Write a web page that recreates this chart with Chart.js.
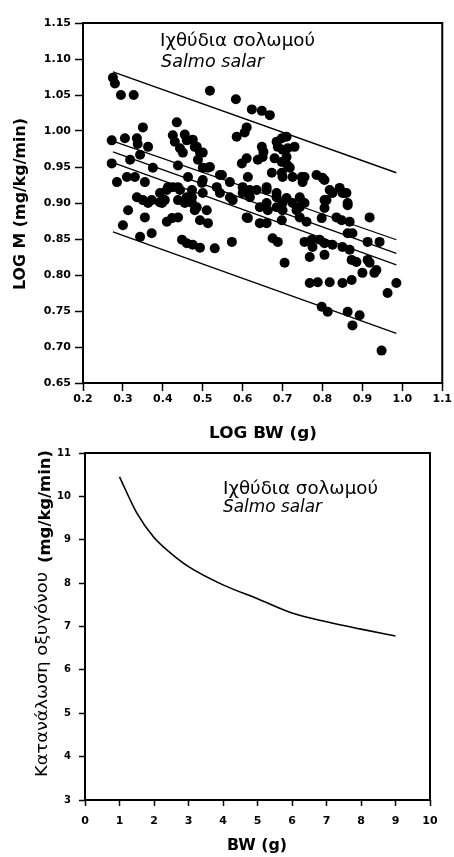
<!DOCTYPE html>
<html>
<head>
<meta charset="utf-8">
<script src="https://cdn.jsdelivr.net/npm/chart.js@4.4.1/dist/chart.umd.min.js"></script>
<style>
  html, body { margin: 0; padding: 0; background: #fff; }
  #wrap { position: relative; width: 454px; height: 857px; }
  #topChart { position: absolute; left: 0; top: 0; width: 454px; height: 445px; }
  #bottomChart { position: absolute; left: 0; top: 445px; width: 454px; height: 412px; }
</style>
</head>
<body>
<div id="wrap">
  <canvas id="topChart" width="454" height="445"></canvas>
  <canvas id="bottomChart" width="454" height="412"></canvas>
</div>
<script>
// scatter: LOG BW (g) vs LOG M (mg/kg/min)
const logBw = [
  0.275, 0.280, 0.295, 0.327, 0.518, 0.583, 0.623, 0.648, 0.668, 0.610,
  0.605, 0.585, 0.435, 0.350, 0.272, 0.305, 0.335, 0.337, 0.425, 0.430,
  0.455, 0.460, 0.475, 0.443, 0.450, 0.485, 0.493, 0.488, 0.363, 0.343,
  0.318, 0.272, 0.285, 0.310, 0.330, 0.355, 0.375, 0.438, 0.500, 0.518,
  0.543, 0.568, 0.598, 0.610, 0.638, 0.650, 0.648, 0.652, 0.685, 0.698,
  0.710, 0.688, 0.700, 0.713, 0.730, 0.710, 0.713, 0.718, 0.698, 0.673,
  0.725, 0.748, 0.750, 0.785, 0.800, 0.818, 0.825, 0.843, 0.850, 0.335,
  0.350, 0.372, 0.392, 0.313, 0.355, 0.300, 0.343, 0.372, 0.410, 0.423,
  0.438, 0.448, 0.460, 0.475, 0.493, 0.530, 0.573, 0.493, 0.513, 0.510,
  0.393, 0.410, 0.425, 0.443, 0.460, 0.473, 0.485, 0.500, 0.543, 0.568,
  0.610, 0.600, 0.618, 0.643, 0.660, 0.643, 0.663, 0.685, 0.700, 0.635,
  0.660, 0.685, 0.710, 0.725, 0.743, 0.750, 0.698, 0.675, 0.688, 0.705,
  0.760, 0.755, 0.773, 0.775, 0.768, 0.768, 0.788, 0.798, 0.805, 0.810,
  0.805, 0.793, 0.805, 0.825, 0.860, 0.863, 0.835, 0.848, 0.868, 0.850,
  0.868, 0.863, 0.875, 0.818, 0.850, 0.873, 0.873, 0.885, 0.900, 0.918,
  0.913, 0.943, 0.913, 0.918, 0.930, 0.935, 0.963, 0.985, 0.798, 0.813,
  0.863, 0.875, 0.893, 0.948, 0.480, 0.463, 0.413, 0.438, 0.473, 0.498,
  0.405, 0.438, 0.473, 0.680, 0.698, 0.613, 0.700, 0.500, 0.513, 0.548,
  0.500, 0.535, 0.600, 0.660, 0.685, 0.743, 0.575, 0.618, 0.660, 0.700,
  0.805, 0.755, 0.855, 0.805, 0.863, 0.755, 0.613, 0.735, 0.743, 0.398,
  0.455, 0.480, 0.363
];
const logM = [
  1.074, 1.066, 1.050, 1.050, 1.056, 1.044, 1.030, 1.028, 1.022, 1.005,
  0.998, 0.992, 1.012, 1.005, 0.987, 0.990, 0.990, 0.982, 0.994, 0.985,
  0.995, 0.987, 0.988, 0.976, 0.970, 0.978, 0.970, 0.960, 0.978, 0.967,
  0.960, 0.955, 0.929, 0.936, 0.936, 0.929, 0.949, 0.952, 0.949, 0.950,
  0.939, 0.929, 0.955, 0.962, 0.960, 0.964, 0.978, 0.971, 0.985, 0.990,
  0.992, 0.978, 0.974, 0.976, 0.978, 0.964, 0.952, 0.949, 0.942, 0.942,
  0.936, 0.936, 0.929, 0.939, 0.935, 0.918, 0.914, 0.921, 0.914, 0.908,
  0.904, 0.904, 0.901, 0.890, 0.880, 0.869, 0.853, 0.858, 0.874, 0.879,
  0.880, 0.849, 0.844, 0.842, 0.838, 0.837, 0.846, 0.876, 0.872, 0.890,
  0.914, 0.918, 0.922, 0.918, 0.908, 0.900, 0.894, 0.914, 0.914, 0.908,
  0.880, 0.914, 0.918, 0.872, 0.872, 0.894, 0.890, 0.894, 0.890, 0.918,
  0.922, 0.914, 0.907, 0.900, 0.894, 0.901, 0.876, 0.851, 0.846, 0.817,
  0.874, 0.846, 0.849, 0.839, 0.825, 0.789, 0.790, 0.879, 0.893, 0.904,
  0.828, 0.849, 0.844, 0.842, 0.914, 0.897, 0.880, 0.876, 0.874, 0.839,
  0.835, 0.858, 0.858, 0.790, 0.789, 0.793, 0.821, 0.818, 0.803, 0.880,
  0.846, 0.846, 0.821, 0.817, 0.803, 0.807, 0.775, 0.789, 0.756, 0.749,
  0.749, 0.730, 0.744, 0.695, 0.978, 0.936, 0.922, 0.922, 0.918, 0.928,
  0.904, 0.904, 0.908, 0.962, 0.957, 0.936, 0.936, 0.970, 0.949, 0.939,
  0.932, 0.922, 0.922, 0.918, 0.908, 0.908, 0.904, 0.908, 0.900, 0.900,
  0.932, 0.936, 0.914, 0.904, 0.900, 0.900, 0.879, 0.890, 0.880, 0.900,
  0.900, 0.890, 0.900
];

// regression line with confidence and prediction bands (end points)
const fitX = [0.275, 0.985];
const upperPrediction = [1.082, 0.942];
const upperConfidence = [0.986, 0.849];
const regression = [0.971, 0.830];
const lowerConfidence = [0.956, 0.814];
const lowerPrediction = [0.860, 0.719];

const topXTicks = [0.2, 1.1, 0.1];
const topYTicks = [0.65, 1.15, 0.05];

// curve: BW (g) vs oxygen consumption (mg/kg/min)
const bwGrams = [1, 1.5, 2, 2.5, 3, 4, 5, 6, 7, 8, 9];
const oxygenUse = [10.45, 9.62, 9.05, 8.68, 8.38, 7.96, 7.64, 7.31, 7.11, 6.94, 6.78];

const bottomXTicks = [0, 10, 1];
const bottomYTicks = [3, 11, 1];

const speciesName = 'Ιχθύδια σολωμού';
const speciesLatin = 'Salmo salar';

const FONT = '"DejaVu Sans", "Liberation Sans", Arial, sans-serif';

// plot frame all around the chart area
const framePlugin = {
  id: 'frame',
  afterDatasetsDraw(chart) {
    const { ctx, chartArea: a } = chart;
    ctx.save();
    ctx.strokeStyle = '#000';
    ctx.lineWidth = 2;
    ctx.strokeRect(a.left, a.top, a.right - a.left, a.bottom - a.top);
    ctx.restore();
  }
};

// free texts, stretched to the length they have in the figure
const textPlugin = {
  id: 'texts',
  afterDraw(chart, args, opts) {
    const { ctx } = chart;
    (opts.items || []).forEach((item) => {
      ctx.save();
      ctx.font = item.font;
      ctx.fillStyle = '#000';
      ctx.textBaseline = item.baseline || 'middle';
      const w = ctx.measureText(item.text).width;
      const sx = item.len ? item.len / w : 1;
      ctx.translate(item.x, item.y);
      if (item.rotate) ctx.rotate(item.rotate);
      ctx.scale(sx, 1);
      ctx.fillText(item.text, item.align === 'center' ? -w / 2 : 0, 0);
      ctx.restore();
    });
  }
};

function lineSet(ys, width) {
  return {
    type: 'scatter',
    data: fitX.map((x, i) => ({ x, y: ys[i] })),
    showLine: true,
    borderColor: '#000',
    borderWidth: width,
    pointRadius: 0,
    fill: false
  };
}

function axis(range, digits, fontSize, tickLen, pad, fit) {
  return {
    type: 'linear',
    min: range[0],
    max: range[1],
    ticks: {
      stepSize: range[2],
      color: '#000',
      padding: pad,
      font: { family: FONT, size: fontSize, weight: 'bold' },
      callback: (v) => digits ? Number(v).toFixed(digits) : String(Math.round(v))
    },
    grid: {
      display: true,
      drawOnChartArea: false,
      drawTicks: true,
      tickLength: tickLen,
      tickColor: '#000',
      tickWidth: 1.5
    },
    border: { display: false },
    title: { display: false },
    afterFit: fit
  };
}

Chart.defaults.color = '#000';
Chart.defaults.animation = false;

new Chart(document.getElementById('topChart'), {
  type: 'scatter',
  data: {
    datasets: [
      {
        data: logBw.map((x, i) => ({ x, y: logM[i] })),
        backgroundColor: '#000',
        borderWidth: 0,
        pointRadius: 5
      },
      lineSet(upperPrediction, 1.4),
      lineSet(upperConfidence, 1.2),
      lineSet(regression, 1.2),
      lineSet(lowerConfidence, 1.2),
      lineSet(lowerPrediction, 1.4)
    ]
  },
  options: {
    responsive: false,
    animation: false,
    layout: { padding: { left: 0, right: 11, top: 23, bottom: 0 } },
    scales: {
      x: axis(topXTicks, 1, 11, 8, 2, (s) => { s.height = 62; }),
      y: axis(topYTicks, 2, 11, 8, 4, (s) => { s.width = 83; })
    },
    plugins: {
      legend: { display: false },
      tooltip: { enabled: false },
      texts: {
        items: [
          { text: speciesName, x: 160, y: 42, font: '17px ' + FONT, len: 155 },
          { text: speciesLatin, x: 161, y: 63, font: 'italic 17px ' + FONT, len: 103 },
          { text: 'LOG BW (g)', x: 263, y: 434, font: 'bold 16px ' + FONT, len: 108, align: 'center' },
          { text: 'LOG M (mg/kg/min)', x: 25, y: 290, font: 'bold 15px ' + FONT, len: 172,
            rotate: -Math.PI / 2, baseline: 'alphabetic' }
        ]
      }
    }
  },
  plugins: [framePlugin, textPlugin]
});

new Chart(document.getElementById('bottomChart'), {
  type: 'scatter',
  data: {
    datasets: [{
      data: bwGrams.map((x, i) => ({ x, y: oxygenUse[i] })),
      showLine: true,
      borderColor: '#000',
      borderWidth: 1.6,
      pointRadius: 0,
      cubicInterpolationMode: 'monotone',
      fill: false
    }]
  },
  options: {
    responsive: false,
    animation: false,
    layout: { padding: { left: 0, right: 24, top: 8, bottom: 0 } },
    scales: {
      x: axis(bottomXTicks, 0, 11, 6, 9, (s) => { s.height = 57; }),
      y: axis(bottomYTicks, 0, 10, 6, 8, (s) => {
        s.width = 85;
        s.paddingTop = 0;
        s.paddingBottom = 0;
      })
    },
    plugins: {
      legend: { display: false },
      tooltip: { enabled: false },
      texts: {
        items: [
          { text: speciesName, x: 223, y: 45, font: '17px ' + FONT, len: 155 },
          { text: speciesLatin, x: 223, y: 63, font: 'italic 17px ' + FONT, len: 99 },
          { text: 'BW (g)', x: 257, y: 401, font: 'bold 16px ' + FONT, len: 60, align: 'center' },
          { text: 'Κατανάλωση οξυγόνου', x: 47, y: 332, font: '16px ' + FONT, len: 205,
            rotate: -Math.PI / 2, baseline: 'alphabetic' },
          { text: '(mg/kg/min)', x: 50, y: 118, font: 'bold 15px ' + FONT, len: 113,
            rotate: -Math.PI / 2, baseline: 'alphabetic' }
        ]
      }
    }
  },
  plugins: [framePlugin, textPlugin]
});
</script>
</body>
</html>
